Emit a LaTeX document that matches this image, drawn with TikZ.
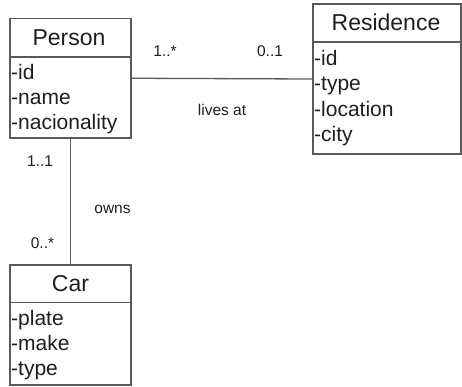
\documentclass[tikz,border=0pt]{standalone}
\usepackage{fontspec}
\setmainfont{Liberation Sans}
\begin{document}
\begin{tikzpicture}[x=1pt,y=-1pt,
  box/.style={draw=boxgray,line width=1.3pt,rectangle,inner sep=0pt},
  sep/.style={draw=boxgray,line width=1.3pt},
  conn/.style={draw=boxgray,line width=1.3pt},
  ttl/.style={anchor=base,inner sep=0pt,font=\fontsize{23}{26}\selectfont,text=txt},
  attr/.style={anchor=base west,inner sep=0pt,font=\fontsize{21}{24}\selectfont,text=txt},
  lbl/.style={anchor=base,inner sep=0pt,font=\fontsize{15.5}{18}\selectfont,text=txt}]
\definecolor{boxgray}{HTML}{5A5A5A}
\definecolor{txt}{HTML}{1E1E1E}
\useasboundingbox (0,0) rectangle (462,386);
% Person
\node[box,minimum width=121pt,minimum height=119.5pt] (person) at (70.5,78.25) {};
\draw[sep] (10,57) -- (131,57);
\node[ttl] (ptitle) at (69,45.5) {Person};
\node[attr] (p1) at (11,79) {-id};
\node[attr] (p2) at (11,104) {-name};
\node[attr] (p3) at (11,129) {-nacionality};
% Residence
\node[box,minimum width=148pt,minimum height=150pt] (res) at (387,79) {};
\draw[sep] (313,42) -- (461,42);
\node[ttl] (rtitle) at (386,30.5) {Residence};
\node[attr] (r1) at (314,65.5) {-id};
\node[attr] (r2) at (314,90.8) {-type};
\node[attr] (r3) at (314,116) {-location};
\node[attr] (r4) at (314,141.3) {-city};
% Car
\node[box,minimum width=121pt,minimum height=120pt] (car) at (70.5,325) {};
\draw[sep] (10,302.7) -- (131,302.7);
\node[ttl] (ctitle) at (70.5,291.5) {Car};
\node[attr] (c1) at (11,325) {-plate};
\node[attr] (c2) at (11,350.5) {-make};
\node[attr] (c3) at (11,375) {-type};
% connectors
\draw[conn] (person.east) -- (res.west);
\draw[conn] (person.south) -- (car.north);
% labels
\node[lbl] (m1) at (165,56.7) {1..*};
\node[lbl] (m2) at (270,56.7) {0..1};
\node[lbl] (la) at (222,115) {lives at};
\node[lbl] (m3) at (40,166.7) {1..1};
\node[lbl] (ow) at (112.5,213.3) {owns};
\node[lbl] (m4) at (42.5,248.3) {0..*};
\end{tikzpicture}
\end{document}
